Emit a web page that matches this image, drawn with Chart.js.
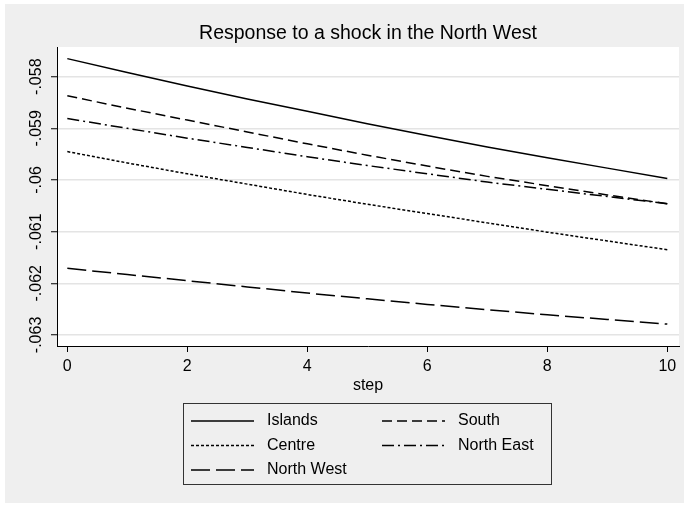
<!DOCTYPE html>
<html>
<head>
<meta charset="utf-8">
<script src="https://cdn.jsdelivr.net/npm/chart.js@4.4.1/dist/chart.umd.min.js"></script>
<style>
  html, body { margin: 0; padding: 0; background: #fff; }
</style>
</head>
<body>
<canvas id="myChart" width="687" height="507"></canvas>
<script>
// values
const steps = [0, 1, 2, 3, 4, 5, 6, 7, 8, 9, 10];
const islands   = [-0.05765, -0.05792, -0.05818, -0.05843, -0.05867, -0.05891, -0.05914, -0.05936, -0.05957, -0.05977, -0.05997];
const south     = [-0.05837, -0.05861, -0.05884, -0.05907, -0.05930, -0.05952, -0.05973, -0.05993, -0.06011, -0.06029, -0.06046];
const centre    = [-0.05945, -0.05967, -0.05988, -0.06008, -0.06028, -0.06047, -0.06065, -0.06083, -0.06101, -0.06118, -0.06135];
const northEast = [-0.05881, -0.05900, -0.05919, -0.05937, -0.05955, -0.05972, -0.05988, -0.06004, -0.06018, -0.06032, -0.06046];
const northWest = [-0.06171, -0.06183, -0.06195, -0.06207, -0.06219, -0.06230, -0.06241, -0.06251, -0.06261, -0.06270, -0.06279];

const xTicks = [0, 2, 4, 6, 8, 10];
const yTicks = [-0.063, -0.062, -0.061, -0.06, -0.059, -0.058];
const yTickLabels = ['-.063', '-.062', '-.061', '-.06', '-.059', '-.058'];

const FONT = '"Liberation Sans", Arial, Helvetica, sans-serif';

const toPoints = arr => steps.map((s, i) => ({x: s, y: arr[i]}));

function series(label, values, dash) {
  return {
    label: label,
    data: toPoints(values),
    borderColor: '#000',
    borderWidth: 1.5,
    borderDash: dash,
    pointRadius: 0,
    fill: false,
    tension: 0
  };
}

// stata-like grey background and white plot region
const backdrop = {
  id: 'backdrop',
  beforeDraw(chart) {
    const ctx = chart.ctx, a = chart.chartArea;
    ctx.save();
    ctx.fillStyle = '#fff';
    ctx.fillRect(0, 0, chart.width, chart.height);
    ctx.fillStyle = '#efefef';
    ctx.fillRect(5, 4, 679, 499);
    ctx.fillStyle = '#fff';
    ctx.fillRect(a.left, a.top, a.right - a.left, a.bottom - a.top);
    ctx.restore();
  }
};

// two column legend box under the axis
const boxLegend = {
  id: 'boxLegend',
  afterDraw(chart) {
    const ctx = chart.ctx;
    ctx.save();
    ctx.strokeStyle = '#333';
    ctx.lineWidth = 1;
    ctx.setLineDash([]);
    ctx.strokeRect(183.5, 403.5, 368, 81);
    chart.data.datasets.forEach((ds, i) => {
      const col = i % 2, row = Math.floor(i / 2);
      const x0 = col ? 382 : 191;
      const y = 421 + row * 24.5;
      ctx.strokeStyle = '#000';
      ctx.lineWidth = ds.borderWidth;
      ctx.setLineDash(ds.borderDash || []);
      ctx.beginPath();
      ctx.moveTo(x0, y);
      ctx.lineTo(x0 + 63, y);
      ctx.stroke();
      ctx.setLineDash([]);
      ctx.fillStyle = '#000';
      ctx.font = '16px ' + FONT;
      ctx.textBaseline = 'middle';
      ctx.textAlign = 'left';
      ctx.fillText(ds.label, col ? 458 : 267, y);
    });
    ctx.restore();
  }
};

const ctx = document.getElementById('myChart').getContext('2d');

const myChart = new Chart(ctx, {
  type: 'line',
  data: {
    datasets: [
      series('Islands', islands, []),
      series('South', south, [10, 5]),
      series('Centre', centre, [3, 2]),
      series('North East', northEast, [12, 4, 2, 4]),
      series('North West', northWest, [19, 6])
    ]
  },
  options: {
    responsive: false,
    animation: false,
    layout: { padding: { left: 0, right: 8, top: 0, bottom: 111 } },
    plugins: {
      legend: { display: false },
      tooltip: { enabled: false },
      title: {
        display: true,
        fullSize: false,
        text: 'Response to a shock in the North West',
        color: '#000',
        font: { family: FONT, size: 19.5, weight: 'normal' },
        padding: { top: 22, bottom: 1.6 }
      }
    },
    scales: {
      x: {
        type: 'linear',
        min: -0.172,
        max: 10.195,
        afterBuildTicks: s => { s.ticks = xTicks.map(v => ({value: v})); },
        afterFit: s => { s.height = 50; },
        grid: { drawOnChartArea: false, tickLength: 6, tickColor: '#000', tickWidth: 1 },
        border: { color: '#000', width: 1 },
        ticks: { color: '#000', padding: 5, maxRotation: 0, font: { family: FONT, size: 16 } },
        title: {
          display: true, text: 'step', color: '#000',
          font: { family: FONT, size: 16 },
          padding: { top: 0, bottom: 1 }
        }
      },
      y: {
        type: 'linear',
        min: -0.063214,
        max: -0.057425,
        afterBuildTicks: s => { s.ticks = yTicks.map(v => ({value: v})); },
        afterFit: s => { s.width = 57; },
        grid: { color: '#e4e4e4', lineWidth: 1.5, tickLength: 6, tickColor: '#000', tickWidth: 1 },
        border: { color: '#000', width: 1 },
        ticks: {
          color: '#000',
          minRotation: 90,
          maxRotation: 90,
          crossAlign: 'center',
          padding: -4,
          font: { family: FONT, size: 16 },
          callback: v => yTickLabels[yTicks.indexOf(v)]
        }
      }
    }
  },
  plugins: [backdrop, boxLegend]
});
</script>
</body>
</html>
